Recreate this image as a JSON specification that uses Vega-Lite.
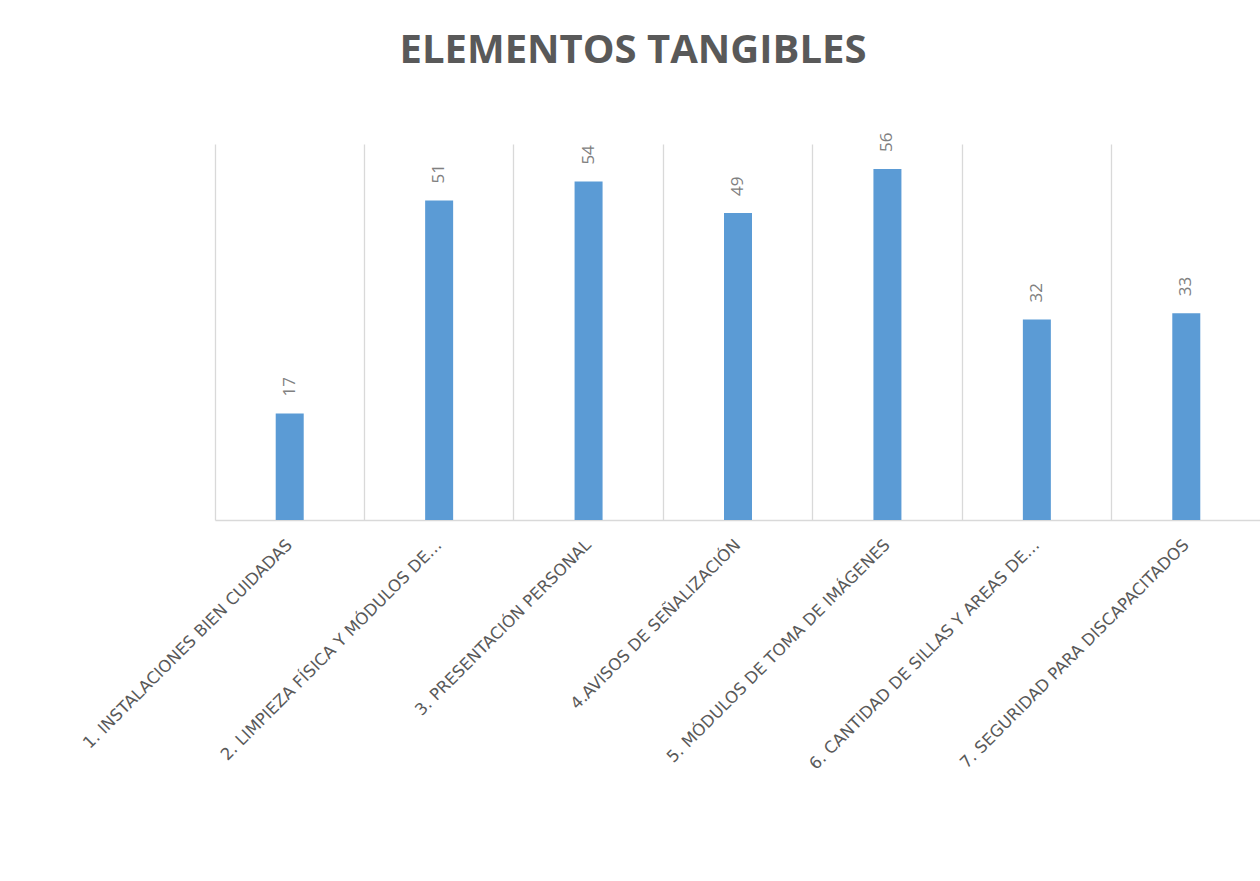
{
  "$schema": "https://vega.github.io/schema/vega-lite/v6.json",
  "width": 1046,
  "height": 376,
  "autosize": "none",
  "padding": {"left": 215, "top": 144, "right": 0, "bottom": 361},
  "background": "white",
  "title": {
    "text": "ELEMENTOS TANGIBLES",
    "anchor": "middle",
    "frame": "group",
    "dx": -105,
    "offset": 30,
    "baseline": "alphabetic",
    "font": "Open Sans",
    "fontSize": 40,
    "fontWeight": "bold",
    "color": "#595959"
  },
  "data": {
    "values": [
      {"categoria": "1. INSTALACIONES BIEN CUIDADAS", "valor": 17},
      {"categoria": "2. LIMPIEZA FÍSICA Y MÓDULOS DE…", "valor": 51},
      {"categoria": "3. PRESENTACIÓN PERSONAL", "valor": 54},
      {"categoria": "4.AVISOS DE SEÑALIZACIÓN", "valor": 49},
      {"categoria": "5. MÓDULOS DE TOMA DE IMÁGENES", "valor": 56},
      {"categoria": "6. CANTIDAD DE SILLAS Y AREAS DE…", "valor": 32},
      {"categoria": "7. SEGURIDAD PARA DISCAPACITADOS", "valor": 33}
    ]
  },
  "encoding": {
    "x": {
      "field": "categoria",
      "type": "nominal",
      "sort": null,
      "scale": {"paddingInner": 0, "paddingOuter": 0},
      "axis": {
        "title": null,
        "bandPosition": 0,
        "grid": true,
        "gridColor": "#d9d9d9",
        "gridWidth": 1.3,
        "ticks": false,
        "domainColor": "#d9d9d9",
        "domainWidth": 1.5,
        "labelAngle": -45,
        "labelAlign": "right",
        "labelBaseline": "middle",
        "labelOffset": 0,
        "labelPadding": 22,
        "labelFont": "DejaVu Sans",
        "labelFontSize": 16.5,
        "labelColor": "#595959",
        "labelLimit": 0
      }
    },
    "y": {
      "field": "valor",
      "type": "quantitative",
      "scale": {"domain": [0, 60]},
      "axis": null
    }
  },
  "layer": [
    {"mark": {"type": "bar", "size": 28, "color": "#5B9BD5"}},
    {
      "mark": {
        "type": "text",
        "angle": 270,
        "align": "left",
        "baseline": "middle",
        "dx": 17,
        "font": "Open Sans",
        "fontSize": 17,
        "color": "#808080"
      },
      "encoding": {"text": {"field": "valor", "type": "quantitative"}}
    }
  ],
  "config": {"view": {"stroke": null}}
}
